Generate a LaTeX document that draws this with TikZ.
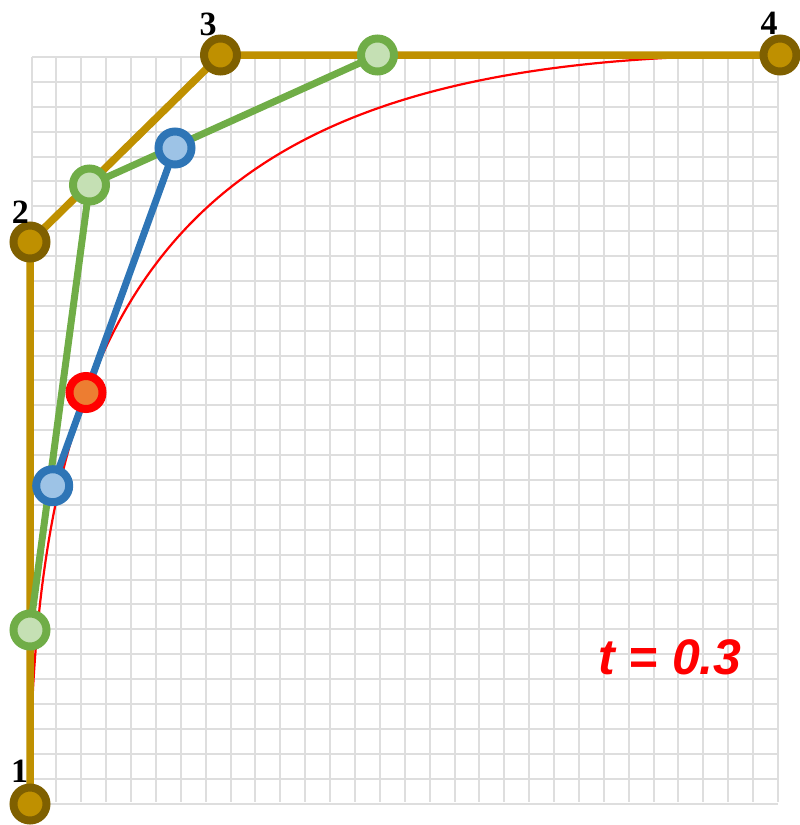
\documentclass[tikz,border=0pt]{standalone}
\usepackage{fontspec}
\setmainfont{Liberation Serif}
\newfontfamily\labelsans{Liberation Sans}
\definecolor{gridc}{RGB}{222,222,222}
\definecolor{goldline}{RGB}{191,144,0}
\definecolor{goldring}{RGB}{127,96,0}
\definecolor{greenline}{RGB}{112,173,71}
\definecolor{greenfill}{RGB}{197,224,180}
\definecolor{blueline}{RGB}{46,117,182}
\definecolor{bluefill}{RGB}{157,195,230}
\definecolor{redring}{RGB}{255,0,0}
\definecolor{orangefill}{RGB}{237,125,49}
\tikzset{
  gridline/.style={draw=gridc, line width=2pt},
  goldpoly/.style={draw=goldline, line width=7.5pt, line join=round},
  greenpoly/.style={draw=greenline, line width=7pt, line join=round},
  bluepoly/.style={draw=blueline, line width=7pt},
  bezcurve/.style={draw=red, line width=2.2pt},
  dot/.style={circle, minimum size=33pt, inner sep=0pt, line width=8pt},
  ctrldot/.style={dot, draw=goldring, fill=goldline},
  greendot/.style={dot, draw=greenline, fill=greenfill},
  bluedot/.style={dot, draw=blueline, fill=bluefill},
  reddot/.style={dot, draw=redring, fill=orangefill},
  numlabel/.style={inner sep=0pt, font=\bfseries\fontsize{34}{34}\selectfont},
  tlabel/.style={inner sep=0pt, text=red, font=\labelsans\bfseries\itshape\fontsize{50}{50}\selectfont}
}
\begin{document}
\begin{tikzpicture}[x=1pt,y=-1pt]
\useasboundingbox (0,0) rectangle (800,825);
\foreach \i in {0,...,30} {
  \draw[gridline] ({31.5+\i*24.883},57) -- ({31.5+\i*24.883},802);
  \draw[gridline] (31.5,{57+\i*24.883}) -- (778,{57+\i*24.883});
}
\coordinate (P1) at (30,804);
\coordinate (P2) at (30,242);
\coordinate (P3) at (220.5,55);
\coordinate (P4) at (780,55);
\coordinate (Q1) at (30,630);
\coordinate (Q2) at (89.5,185);
\coordinate (Q3) at (377.5,55);
\coordinate (R1) at (52.7,485.7);
\coordinate (R2) at (175,148);
\coordinate (S) at (86,392.5);
\draw[bezcurve] (P1) .. controls (P2) and (P3) .. (P4);
\draw[goldpoly] (P1) -- (P2) -- (P3) -- (P4);
\draw[greenpoly] (Q1) -- (Q2) -- (Q3);
\draw[bluepoly] (R1) -- (R2);
\node[ctrldot] (c1) at (P1) {};
\node[ctrldot] (c2) at (P2) {};
\node[ctrldot] (c3) at (P3) {};
\node[ctrldot] (c4) at (P4) {};
\node[greendot] (g1) at (Q1) {};
\node[greendot] (g2) at (Q2) {};
\node[greendot] (g3) at (Q3) {};
\node[bluedot] (b1) at (R1) {};
\node[bluedot] (b2) at (R2) {};
\node[reddot] (s) at (S) {};
\node[numlabel] (l1) at (19.7,771) {1};
\node[numlabel] (l2) at (20.5,212) {2};
\node[numlabel] (l3) at (208,24) {3};
\node[numlabel] (l4) at (769,23) {4};
\node[tlabel] (t) at (670,657) {t = 0.3};
\end{tikzpicture}
\end{document}
